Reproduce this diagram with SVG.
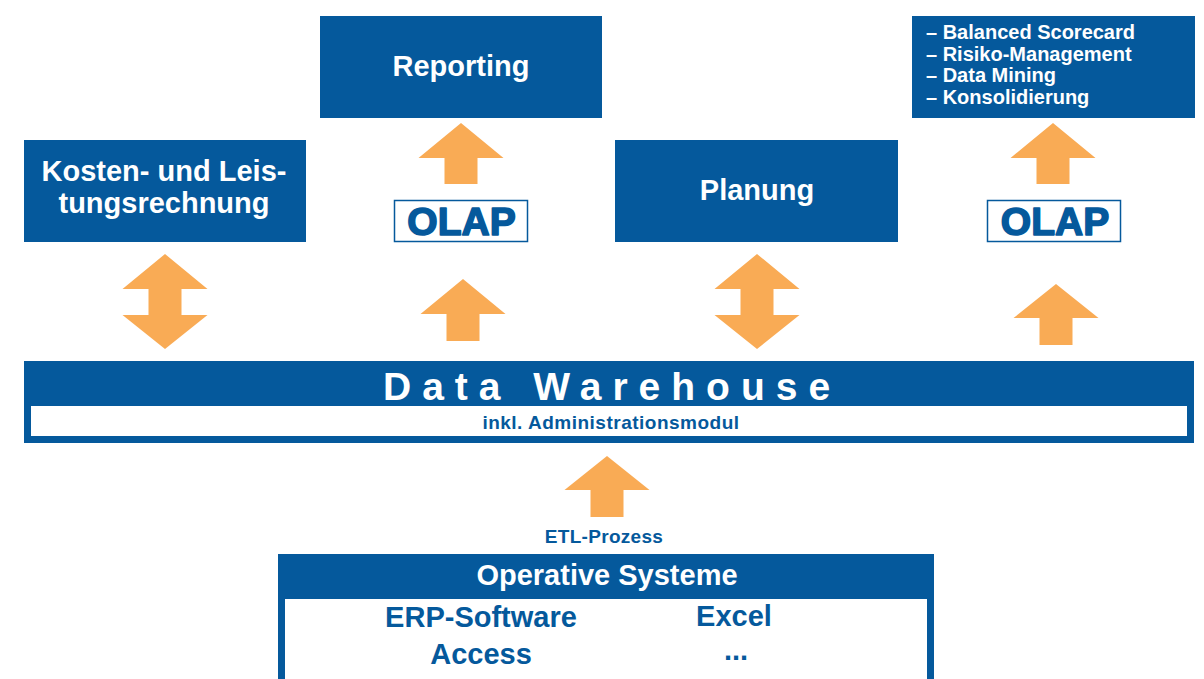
<svg xmlns="http://www.w3.org/2000/svg" width="1204" height="679" viewBox="0 0 1204 679">
  <style>
    .box { fill: #05599c; }
    .olap { fill: #ffffff; stroke: #05599c; stroke-width: 1.5; }
    .arrow { fill: #f9ab55; }
    .wt { fill: #ffffff; font-family: "Liberation Sans", Arial, sans-serif; font-weight: bold; }
    .bt { fill: #05599c; font-family: "Liberation Sans", Arial, sans-serif; font-weight: bold; }
    .ol { stroke: #05599c; stroke-width: 1.6; stroke-linejoin: round; }
  </style>

  <g id="reporting">
    <rect class="box" x="320" y="16" width="282" height="102"/>
    <text class="wt" x="461" y="76" font-size="29" text-anchor="middle">Reporting</text>
  </g>

  <g id="analysen">
    <rect class="box" x="912" y="16" width="283" height="102"/>
    <text class="wt" font-size="20">
      <tspan x="926" y="39">– Balanced Scorecard</tspan>
      <tspan x="926" y="61">– Risiko-Management</tspan>
      <tspan x="926" y="82">– Data Mining</tspan>
      <tspan x="926" y="104">– Konsolidierung</tspan>
    </text>
  </g>

  <g id="kosten">
    <rect class="box" x="24" y="140" width="282" height="102"/>
    <text class="wt" x="164" y="181" font-size="29" text-anchor="middle">Kosten- und Leis-</text>
    <text class="wt" x="164" y="213" font-size="29" text-anchor="middle">tungsrechnung</text>
  </g>

  <g id="planung">
    <rect class="box" x="615" y="140" width="283" height="102"/>
    <text class="wt" x="757" y="200" font-size="29" text-anchor="middle">Planung</text>
  </g>

  <g id="olap1">
    <rect class="olap" x="394.5" y="200.5" width="133" height="41"/>
    <text class="bt ol" x="461.5" y="235" font-size="39" text-anchor="middle">OLAP</text>
  </g>

  <g id="olap2">
    <rect class="olap" x="987.5" y="200.5" width="133" height="41"/>
    <text class="bt ol" x="1055" y="235" font-size="39" text-anchor="middle">OLAP</text>
  </g>

  <g id="datawarehouse">
    <rect class="box" x="24" y="361" width="1170" height="82"/>
    <rect x="31" y="406" width="1156" height="30" fill="#ffffff"/>
    <text class="wt" x="383" y="400" font-size="39" letter-spacing="11">Data Warehouse</text>
    <text class="bt" x="611" y="429" font-size="19" letter-spacing="0.5" text-anchor="middle">inkl. Administrationsmodul</text>
  </g>

  <g id="etl-label">
    <text class="bt" x="604" y="543" font-size="19" letter-spacing="0.3" text-anchor="middle">ETL-Prozess</text>
  </g>

  <g id="operative">
    <rect class="box" x="278" y="554" width="656" height="130"/>
    <rect x="285" y="599" width="642" height="90" fill="#ffffff"/>
    <text class="wt" x="607" y="585" font-size="29" text-anchor="middle">Operative Systeme</text>
    <text class="bt" x="481" y="627" font-size="29" text-anchor="middle">ERP-Software</text>
    <text class="bt" x="734" y="626" font-size="29" text-anchor="middle">Excel</text>
    <text class="bt" x="481" y="664" font-size="29" text-anchor="middle">Access</text>
    <text class="bt" x="736" y="660" font-size="29" text-anchor="middle">...</text>
  </g>

  <g id="connectors">
    <polygon class="arrow" points="461,123 503.5,158 477.5,158 477.5,184 444.5,184 444.5,158 418.5,158"/>
    <polygon class="arrow" points="463,279 505.5,314 479.5,314 479.5,341 446.5,341 446.5,314 420.5,314"/>
    <polygon class="arrow" points="165,254 207.5,289 181.5,289 181.5,315 207.5,315 165,349 122.5,315 148.5,315 148.5,289 122.5,289"/>
    <polygon class="arrow" points="757,254 799.5,289 773.5,289 773.5,315 799.5,315 757,349 714.5,315 740.5,315 740.5,289 714.5,289"/>
    <polygon class="arrow" points="1053,123 1095.5,158 1069.5,158 1069.5,184 1036.5,184 1036.5,158 1010.5,158"/>
    <polygon class="arrow" points="1056,284 1098.5,318 1072.5,318 1072.5,345 1039.5,345 1039.5,318 1013.5,318"/>
    <polygon class="arrow" points="607,456 649.5,490 623.5,490 623.5,517 590.5,517 590.5,490 564.5,490"/>
  </g>
</svg>
